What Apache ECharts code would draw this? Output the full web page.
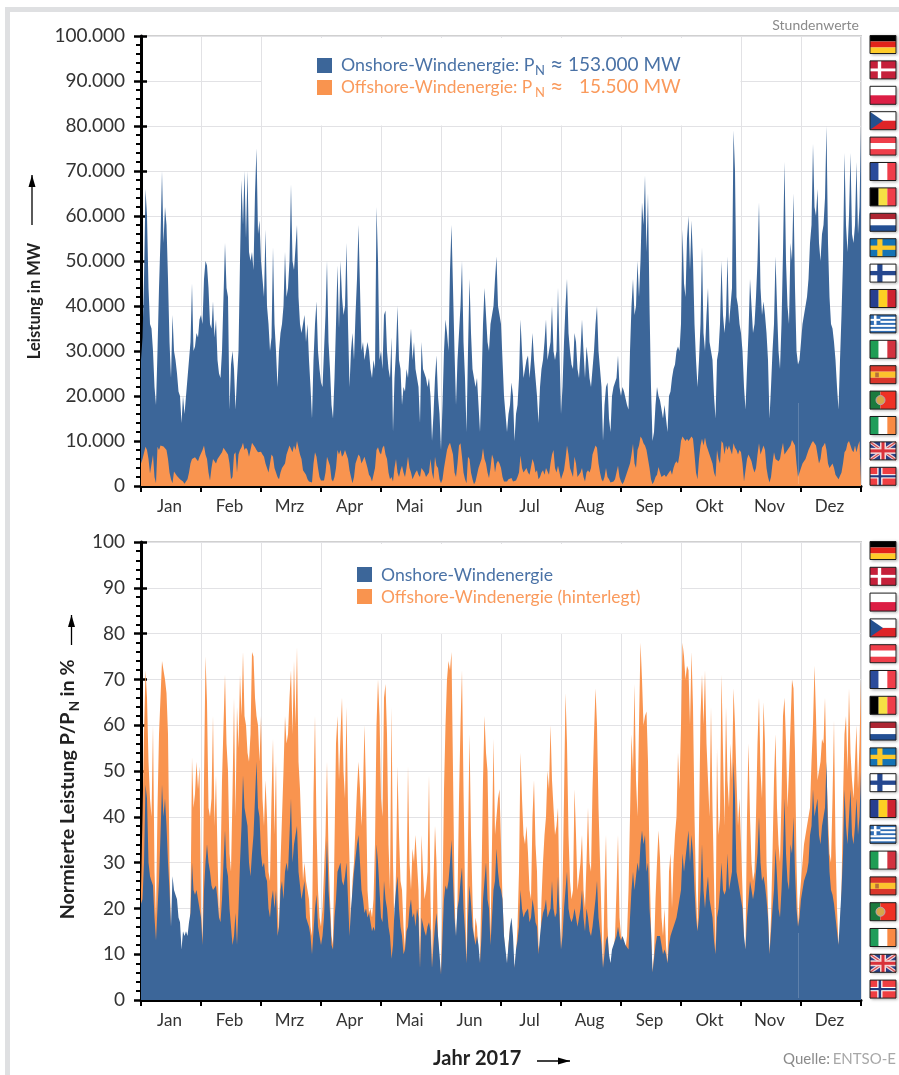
<!DOCTYPE html>
<html>
<head>
<meta charset="utf-8">
<title>Windenergie Europa 2017</title>
<script src="https://cdn.jsdelivr.net/npm/echarts@6/dist/echarts.min.js"></script>
<style>
html, body { margin: 0; padding: 0; background: #fff; }
#main { width: 899px; height: 1075px; }
</style>
</head>
<body>
<div id="main"></div>
<script>
var months = ['Jan','Feb','Mrz','Apr','Mai','Jun','Jul','Aug','Sep','Okt','Nov','Dez'];
var perMonth = 40;
var ticksTop = ['0','10.000','20.000','30.000','40.000','50.000','60.000','70.000','80.000','90.000','100.000'];
var ticksBottom = ['0','10','20','30','40','50','60','70','80','90','100'];
var flags = ['de','dk','pl','cz','at','fr','be','nl','se','fi','ro','gr','it','es','pt','ie','uk','no'];

// Leistung in 1000 MW, oben
var onshoreMW = [
  28,33,46,66,60,44,36,35,30,22, 18,30,44,55,70,54,62,58,46,32, 24,38,30,28,25,21,20,14,20,16, 20,24,28,32,45,30,31,34,33,37,
  38,36,46,50,49,44,36,35,41,33, 37,28,25,24,30,42,54,44,42,17, 27,30,26,17,24,30,50,68,58,70, 55,70,52,50,52,48,65,75,56,59,
  50,46,42,57,40,36,30,33,53,36, 30,22,30,34,36,40,52,42,44,50, 67,50,48,53,58,42,36,34,34,38, 32,36,28,22,15,28,36,41,30,26,
  23,22,30,38,50,32,26,18,15,24, 36,49,35,50,42,38,40,54,36,22, 30,34,28,38,46,58,44,30,32,28, 30,32,30,26,24,28,26,62,50,28,
  30,26,38,39,30,26,24,33,12,24, 30,40,28,26,18,22,21,26,24,30, 35,28,32,26,24,22,14,32,26,26, 24,22,24,20,10,16,24,29,20,16,
  8,18,30,37,34,30,48,58,44,30, 18,28,34,40,50,32,24,12,30,46, 34,26,24,22,24,18,12,22,36,44, 38,32,30,36,36,40,46,51,40,38,
  36,28,20,16,12,16,18,23,20,10, 16,18,24,37,30,24,26,28,29,24, 28,34,28,24,20,14,22,26,28,32, 37,28,28,32,40,30,28,30,44,30,
  16,22,32,40,46,34,30,27,26,34, 32,26,24,30,37,30,24,31,28,24, 22,26,30,36,40,30,26,22,10,18, 22,23,15,12,20,22,23,24,29,22,
  20,22,21,21,18,17,30,40,46,38, 40,50,42,50,63,58,69,52,65,40, 22,10,12,18,22,20,19,17,15,18, 15,12,20,21,24,26,27,30,31,30,
  36,57,45,42,55,60,48,59,50,36, 28,22,28,36,53,34,30,38,44,32, 30,28,20,15,28,30,36,50,38,34, 38,51,36,40,44,79,70,42,40,36,
  34,30,22,17,26,34,46,40,34,36, 42,50,63,44,38,41,38,34,28,15, 22,30,36,51,40,30,26,36,52,72, 50,40,36,54,50,65,44,30,27,28,
  32,36,38,40,42,46,54,58,76,62, 60,66,54,50,56,58,64,80,54,42, 36,35,32,28,22,17,28,38,50,74, 58,52,60,74,56,54,58,72,56,62, 80
];
var offshoreMW = [
  5,6,5.8,8.7,8,6,2.8,3,6.9,2, 0.6,8.7,8,9,9,8.8,8.5,8,6,3, 1.5,0.6,3.2,2.8,2.2,2,1.5,1.6,1,0.5, 1,1.5,3,5,6,6,6.4,6.5,5.5,6.5,
  6.6,8,9,7,6,3,1.2,4,6,5.5, 5,6,6.4,7,7.5,8.5,8.8,7.5,7,5, 1.5,2,7,7.5,3,7,8,8.6,9.6,8, 8.5,8,6.5,8,9.6,9.5,8.6,8,7.5,7.5,
  7.6,7,6.5,5,4,3,5,7,6.5,4, 3,2,1.5,3,4,4.2,5,7,7,9, 9.3,7.5,9,8,10,8.5,7,6,3.5,3, 2.5,1.5,1,0.8,0.8,5,7.5,6.5,4,2,
  1.2,1.5,1.2,3,6.5,5.5,4.5,1.5,1,2, 4,8,7,8,6.5,7,8,8,6,3.5, 2,0.6,2,5,6,7,6.5,5,5,6.5, 6.5,4,2.5,2,1,1,4,8,8.6,7.5,
  7,8.5,9,7,6,3,1.5,2,1,4, 6,3,2,3.5,4.5,3,2,4,6.5,4, 3,1.5,1.5,3,3.5,2.5,2,4,4.2,3, 2,2,3,6,3,1.5,6.5,4.5,4,1.5,
  0.6,1.5,4,6,8,9,9.6,10,7,3, 2,5,9,9.5,6.5,3,1.5,0.6,6.5,6, 3,1.5,0.4,1,2.5,4,4,6,8.4,6, 5,3,1.8,4,7,6,3,5,5.6,5,
  4,2,1,0.6,1,1.5,1.2,1.8,1,0.8, 1.2,2,3,6.8,4,3,3,4,3,2.5, 2.5,6,5,3,3.5,1.5,2,3,3.5,2.5, 4,4.3,2.5,5,7,8,4,3,4.5,3,
  1.5,2.5,3.5,6,9,7,4,3,2,6.5, 5,2,2,3,4,2,1,3,3.5,3, 4,7,7,9,8.5,5,3,1.5,1,2, 4,2,1.5,0.8,1,1,1.5,3,4.5,2,
  1,0.4,1,2,3,4,5,7,9.4,5, 4,8,9,11,10.5,9.5,9,8,6,4, 1.5,0.4,1,2,2.5,4.2,3,2,1.6,2.5, 2,2.5,3,3.5,2.5,4,5,5.5,5,7,
  10,11,10.5,10,10.5,10,10.5,11,10.5,7, 3,1.5,6,9,10.5,9,10.8,9,8,7, 7,5,3,2,8,6,5,10,9.5,7, 9,8,9,8,7,9.5,8.5,8,7,8,
  7.5,5,1,1,6,7,7,5.5,4,3, 4,7,9.5,7,7,9,8,4,2,0.8, 2,5,7.5,6,6,5.5,6,8,9.6,7, 7,8,8,9,10.2,10,9,5,2,3,
  4,5,5.5,6,7,8,8,9.5,10,9.5, 9,7,5,6,8.5,9,9.6,8,5,4, 4,5,4,2.5,2,1.5,1.5,3,5,7.5, 8,9.5,10,9,8,7.5,9,7.5,9,10, 10
];
// normierte Leistung in %, unten
var onshorePct = [
  21,22,30,47,44,30,27,26,25,18, 13,20,26,36,47,40,44,38,30,24, 16,27,24,23,22,18,17,11,15,14, 15,14,17,19,30,24,23,24,22,22,
  18,12,24,30,34,30,28,25,24,24, 25,22,18,17,22,30,37,29,27,20, 20,12,14,19,12,20,30,38,49,42, 42,38,30,27,32,36,44,52,42,40,
  32,29,30,27,26,20,18,22,24,20, 24,14,16,24,26,22,28,30,28,36, 44,30,34,36,38,28,25,22,24,26, 18,17,16,14,10,15,20,23,16,14,
  12,14,18,26,35,24,19,12,11,18, 22,28,28,30,26,25,27,30,22,14, 20,24,28,31,34,36,30,24,22,19, 20,18,19,17,15,16,15,34,30,24,
  18,17,26,22,20,16,14,9,12,20, 24,27,20,16,14,10,11,15,16,20, 22,18,19,16,20,18,7,18,18,15, 14,16,17,15,7,12,16,19,14,10,
  5.5,14,22,25,24,26,30,35,26,18, 14,20,22,26,29,20,15,8,18,25, 21,16,14,12,14,12,8,14,22,26, 30,22,20,12,18,24,26,33,28,25,
  24,22,14,11,8,12,16,18,14,7, 11,13,16,24,20,18,19,19,20,17, 18,22,20,17,16,10,14,17,19,20, 22,18,19,20,26,20,18,19,27,18,
  11,14,20,24,28,20,18,17,18,20, 18,16,16,20,24,18,15,20,18,15, 14,16,19,22,26,18,15,12,7,10, 13,14,10,8,11,12,13,14,16,14,
  13,14,13,12,12,11,18,24,28,24, 24,30,28,34,37,34,36,28,30,20, 15,6,9,12,14,14,14,12,10,11, 10,8,12,14,15,16,17,18,20,20,
  24,32,28,28,34,37,30,36,32,24, 18,15,18,24,34,24,20,24,27,22, 20,18,13,10,18,20,24,30,24,23, 24,32,24,26,28,52,44,28,26,24,
  22,20,14,11,18,22,26,24,22,24, 28,32,40,30,26,27,25,22,18,10, 15,20,24,33,27,20,18,24,32,44, 32,26,24,34,32,40,28,20,16,18,
  22,24,26,27,28,30,36,38,46,40, 40,44,36,34,38,38,42,52,36,28, 24,23,21,18,15,12,18,24,32,46, 38,34,40,46,36,34,38,44,36,40, 50
];
var offshorePct = [
  24,40,58,72,66,52,44,40,60,28, 18,42,58,66,74,72,70,67,58,30, 14,12,15,14,12,10,8,8,7,6, 7,8,10,20,53,42,45,52,46,51,
  20,13,48,75,65,42,40,44,62,38, 49,32,17,28,48,60,71,56,50,32, 28,45,66,40,64,55,71,62,76,62, 60,54,52,58,76,75,66,62,60,52,
  62,44,38,48,40,28,26,44,57,36, 52,22,14,30,40,50,62,56,58,66, 72,58,74,60,77,52,46,36,26,30, 26,24,22,16,14,45,62,38,24,18,
  16,20,28,36,52,32,22,14,12,34, 56,62,48,58,66,50,44,64,42,30, 14,26,30,38,46,52,46,38,46,60, 46,24,19,20,18,22,34,60,70,62,
  44,40,66,69,58,34,24,64,30,14, 28,51,36,26,24,16,11,24,51,30, 24,33,30,36,30,24,7,36,28,22, 24,28,49,22,7,26,38,30,14,8,
  6,22,46,60,70,74,72,76,50,24, 10,22,44,60,72,46,24,8,34,58, 36,22,12,18,16,10,8,26,48,62, 54,50,30,14,34,57,36,40,44,46,
  34,22,14,9,7,12,16,13,10,7, 10,16,28,54,44,36,34,38,32,24, 22,40,48,34,28,12,9,22,30,36, 40,50,46,60,48,42,36,38,42,22,
  10,24,44,67,56,36,26,22,24,46, 36,24,24,30,36,24,20,30,42,30, 28,46,58,68,60,42,30,18,6,24, 36,16,9,8,9,10,14,24,36,18,
  14,14,12,11,14,24,40,58,50,69, 48,40,60,78,70,60,62,63,52,30, 16,6,10,22,30,37,31,18,14,20, 12,8,28,32,20,30,36,40,54,46,
  60,78,75,70,73,72,60,76,64,40, 24,15,38,62,71,60,72,56,48,40, 64,42,26,10,55,36,40,71,54,38, 64,48,42,56,48,68,60,48,38,44,
  34,24,12,11,40,56,40,30,26,28, 40,56,66,50,44,65,56,30,20,10, 18,32,48,58,42,34,30,44,62,66, 56,42,50,60,70,68,54,30,16,22,
  26,30,34,36,36,40,42,52,60,73, 62,48,50,52,57,56,66,50,40,32, 30,44,61,34,20,12,14,24,44,58, 62,50,68,54,48,44,52,60,46,56, 70
];

var blue = '#3c6699', orange = '#f9944f';
var blueText = '#4a72a6', orangeText = '#fa9a5c';
var fontName = 'Lato';

// Kategorien: jeder Punkt gehoert zu einem Monat, Beschriftung in Monatsmitte
var cats = [];
for (var i = 0; i < onshoreMW.length; i++) {
  cats.push(months[Math.min(Math.floor(i / perMonth), 11)]);
}

function xAxisFor(gridIndex) {
  return {
    type: 'category', gridIndex: gridIndex, data: cats, boundaryGap: false,
    axisLine: { show: true, onZero: false, lineStyle: { color: '#000', width: 3 } },
    axisTick: { show: true, length: 6, interval: function (n) { return n % perMonth === 0; }, lineStyle: { color: '#000', width: 2 } },
    axisLabel: {
      show: true, interval: function (n) { return n % perMonth === perMonth / 2 - 1; }, hideOverlap: false,
      margin: 12, fontFamily: fontName, fontSize: 17, color: '#333'
    },
    splitLine: { show: true, interval: function (n) { return n % perMonth === 0; }, lineStyle: { color: '#e2e2e5', width: 1 } }
  };
}
function yAxisFor(gridIndex, max, labels) {
  return {
    type: 'value', gridIndex: gridIndex, min: 0, max: max, interval: max / 10,
    axisLine: { show: true, lineStyle: { color: '#000', width: 3 } },
    axisTick: { show: true, length: 7, lineStyle: { color: '#000', width: 2.5 } },
    minorTick: { show: true, splitNumber: 5, length: 5, lineStyle: { color: '#000', width: 2 } },
    axisLabel: {
      margin: 16, fontFamily: fontName, fontSize: 19, color: '#333',
      formatter: function (v) { return labels[Math.round(v / (max / 10))]; }
    },
    splitLine: { show: true, lineStyle: { color: '#e2e2e5', width: 1 } }
  };
}
// zweite Achse nur fuer die nach innen zeigenden Haupt-Ticks
function innerTicks(gridIndex, max) {
  return {
    type: 'value', gridIndex: gridIndex, position: 'left', min: 0, max: max, interval: max / 10,
    axisLine: { show: false },
    axisTick: { show: true, inside: true, length: 6, lineStyle: { color: '#000', width: 2.5 } },
    axisLabel: { show: false }, splitLine: { show: false }
  };
}
function area(name, data, color, xi, yi, z) {
  return {
    name: name, type: 'line', xAxisIndex: xi, yAxisIndex: yi, data: data, z: z,
    showSymbol: false, silent: true, animation: false, sampling: false,
    lineStyle: { width: 0 }, areaStyle: { color: color, opacity: 1 }
  };
}

function txt(x, y, text, size, color, extra) {
  var s = { x: x, y: y, text: text, fontFamily: fontName, fontSize: size, fill: color, textVerticalAlign: 'middle', textAlign: 'left' };
  for (var k in (extra || {})) s[k] = extra[k];
  return { type: 'text', z: 20, style: s };
}
function rect(x, y, w, h, c, z) {
  return { type: 'rect', z: z || 20, shape: { x: x, y: y, width: w, height: h }, style: { fill: c } };
}
function arrow(x1, y1, x2, y2) {
  var up = x1 === x2;
  var tri = up
    ? [[x2, y2], [x2 - 3.5, y2 + 12], [x2 + 3.5, y2 + 12]]
    : [[x2, y2], [x2 - 12, y2 - 3.5], [x2 - 12, y2 + 3.5]];
  return [
    { type: 'line', z: 20, shape: { x1: x1, y1: y1, x2: x2, y2: y2 }, style: { stroke: '#000', lineWidth: 1.3 } },
    { type: 'polygon', z: 20, shape: { points: tri }, style: { fill: '#000' } }
  ];
}
function upright(x, y, text, size) {
  return { type: 'text', z: 20, x: x, y: y, rotation: Math.PI / 2,
    style: { text: text, fontFamily: fontName, fontWeight: 'bold', fontSize: size, fill: '#222', textAlign: 'center', textVerticalAlign: 'middle' } };
}

// Fahnen aus einfachen Flaechen
function flag(code, x, y) {
  var w = 26, h = 18, c = [];
  function r(a, b, cw, ch, col) { c.push(rect(x + a * w, y + b * h, cw * w, ch * h, col, 21)); }
  function hs(cols) { cols.forEach(function (col, k) { r(0, k / cols.length, 1, 1 / cols.length, col); }); }
  function vs(cols) { cols.forEach(function (col, k) { r(k / cols.length, 0, 1 / cols.length, 1, col); }); }
  function cross(bg, col, inner) {
    r(0, 0, 1, 1, bg);
    r(0.28, 0, 0.2, 1, col); r(0, 0.38, 1, 0.24, col);
    if (inner) { r(0.33, 0, 0.1, 1, inner); r(0, 0.44, 1, 0.12, inner); }
  }
  if (code === 'de') hs(['#000', '#e2231a', '#ffcc29']);
  if (code === 'dk') { r(0, 0, 1, 1, '#c5203a'); r(0.3, 0, 0.13, 1, '#fff'); r(0, 0.42, 1, 0.16, '#fff'); }
  if (code === 'pl') hs(['#fff', '#dc1e44']);
  if (code === 'cz') {
    hs(['#fff', '#de2428']);
    c.push({ type: 'polygon', z: 22, shape: { points: [[x, y], [x + 13, y + 9], [x, y + 18]] }, style: { fill: '#23508f' } });
  }
  if (code === 'at') hs(['#ef3e4a', '#fff', '#ef3e4a']);
  if (code === 'fr') vs(['#2b4b9b', '#fff', '#ef3e4a']);
  if (code === 'be') vs(['#000', '#f6e044', '#ef3e4a']);
  if (code === 'nl') hs(['#ad2532', '#fff', '#234f94']);
  if (code === 'se') cross('#1573b4', '#fcc92a');
  if (code === 'fi') cross('#fff', '#24478f');
  if (code === 'ro') vs(['#263f8f', '#fdd023', '#cf2330']);
  if (code === 'gr') {
    hs(['#2f6db5', '#fff', '#2f6db5', '#fff', '#2f6db5', '#fff', '#2f6db5', '#fff', '#2f6db5']);
    r(0, 0, 0.4, 0.55, '#2f6db5'); r(0.15, 0, 0.1, 0.55, '#fff'); r(0, 0.22, 0.4, 0.11, '#fff');
  }
  if (code === 'it') vs(['#1f9d55', '#fff', '#d2323f']);
  if (code === 'es') { hs(['#d9362b', '#fcc22d', '#d9362b']); r(0.2, 0.38, 0.14, 0.26, '#b5703a'); }
  if (code === 'pt') {
    r(0, 0, 0.4, 1, '#1b7a3e'); r(0.4, 0, 0.6, 1, '#ee3124');
    c.push({ type: 'circle', z: 22, shape: { cx: x + 10.5, cy: y + 9, r: 4.5 }, style: { fill: '#d6a74a', stroke: '#b9a4b8', lineWidth: 1 } });
  }
  if (code === 'ie') vs(['#1f9d5a', '#fff', '#f98a44']);
  if (code === 'uk') {
    r(0, 0, 1, 1, '#2a3f85');
    [[x, y, x + w, y + h], [x + w, y, x, y + h]].forEach(function (d) {
      c.push({ type: 'line', z: 22, shape: { x1: d[0], y1: d[1], x2: d[2], y2: d[3] }, style: { stroke: '#f2d8d8', lineWidth: 3.5 } });
      c.push({ type: 'line', z: 22, shape: { x1: d[0], y1: d[1], x2: d[2], y2: d[3] }, style: { stroke: '#d84a50', lineWidth: 1.2 } });
    });
    c.push(rect(x + 10, y, 6, h, '#f2d8d8', 23)); c.push(rect(x, y + 6, w, 6, '#f2d8d8', 23));
    c.push(rect(x + 11.5, y, 3, h, '#d9323a', 24)); c.push(rect(x, y + 7.5, w, 3, '#d9323a', 24));
  }
  if (code === 'no') cross('#ef3e42', '#fff', '#223a7d');
  // dunkler Rand und leichter Schatten
  c.unshift({ type: 'rect', z: 20, shape: { x: x - 0.5, y: y - 0.5, width: w + 1, height: h + 1 },
    style: { fill: '#fff', shadowBlur: 3, shadowColor: 'rgba(0,0,0,0.35)', shadowOffsetX: 1, shadowOffsetY: 1 } });
  c.push({ type: 'rect', z: 25, shape: { x: x, y: y, width: w, height: h }, style: { fill: 'none', stroke: '#1c1c1c', lineWidth: 1 } });
  return c;
}

var g = [];
// Rahmen der Seite
g.push(rect(5, 7, 894, 5, '#dfe0e2'));
g.push(rect(5, 7, 5, 1068, '#dfe0e2'));
// Legendenflaechen verdecken das Gitter
g.push(rect(262, 38, 478.5, 87.5, '#fff', 1));
g.push(rect(322, 544, 358.5, 89.5, '#fff', 1));

g.push(txt(859, 25, 'Stundenwerte', 14, '#8a8a8a', { textAlign: 'right' }));
g.push(rect(317, 58, 15, 15, blue));
g.push(rect(317, 80, 15, 15, orange));
g.push(txt(341, 65, 'Onshore-Windenergie: P', 17.8, blueText));
g.push(txt(535, 71, 'N', 13, blueText));
g.push(txt(550, 65, '≈', 23, blueText));
g.push(txt(568, 65, '153.000 MW', 19, blueText));
g.push(txt(341, 87, 'Offshore-Windenergie: P', 17.4, orangeText));
g.push(txt(535, 93, 'N', 13, orangeText));
g.push(txt(550, 87, '≈', 23, orangeText));
g.push(txt(579, 87, '15.500 MW', 19, orangeText));

g.push(rect(357, 567, 15, 15, blue));
g.push(rect(357, 589, 15, 15, orange));
g.push(txt(381, 575, 'Onshore-Windenergie', 17.6, blueText));
g.push(txt(381, 597, 'Offshore-Windenergie (hinterlegt)', 17.4, orangeText));

// Achsentitel
g.push(upright(35, 301, 'Leistung in MW', 16.5));
g = g.concat(arrow(32, 225, 32, 175));
g.push(upright(68, 816, 'Normierte Leistung P/P', 19.7));
g.push(upright(75, 706, 'N', 13.5));
g.push(upright(68, 678, 'in %', 19.7));
g = g.concat(arrow(71.5, 645, 71.5, 615));

g.push(txt(433, 1059, 'Jahr 2017', 20, '#222', { fontWeight: 'bold' }));
g = g.concat(arrow(537, 1061, 570, 1061));
g.push(txt(783, 1059, 'Quelle:', 15, '#8a8a8a'));
g.push(txt(896, 1059, 'ENTSO-E', 15, '#a8a8a8', { textAlign: 'right' }));

// duenne Datenluecke kurz vor Dezember
g.push({ type: 'line', z: 19, shape: { x1: 798.5, y1: 403, x2: 798.5, y2: 484 }, style: { stroke: 'rgba(255,255,255,0.18)', lineWidth: 1 } });
g.push({ type: 'line', z: 19, shape: { x1: 798.5, y1: 933, x2: 798.5, y2: 998 }, style: { stroke: 'rgba(255,255,255,0.18)', lineWidth: 1 } });

flags.forEach(function (code, k) {
  g = g.concat(flag(code, 870, 35.5 + k * 25.4));
  g = g.concat(flag(code, 870, 541.5 + k * 25.8));
});

var myChart = echarts.init(document.getElementById('main'), null, { renderer: 'canvas' });
myChart.setOption({
  animation: false,
  backgroundColor: '#fff',
  grid: [
    { left: 141, top: 36, width: 720, height: 450, show: true, borderColor: '#d0d0d0', borderWidth: 2 },
    { left: 141, top: 542, width: 720, height: 458, show: true, borderColor: '#d0d0d0', borderWidth: 2 }
  ],
  xAxis: [xAxisFor(0), xAxisFor(1)],
  yAxis: [yAxisFor(0, 100, ticksTop), innerTicks(0, 100), yAxisFor(1, 100, ticksBottom), innerTicks(1, 100)],
  series: [
    area('Onshore-Windenergie', onshoreMW, blue, 0, 0, 2),
    area('Offshore-Windenergie', offshoreMW, orange, 0, 0, 3),
    area('Offshore-Windenergie (hinterlegt)', offshorePct, orange, 1, 2, 2),
    area('Onshore-Windenergie', onshorePct, blue, 1, 2, 3)
  ],
  graphic: { elements: g }
});
</script>
</body>
</html>
